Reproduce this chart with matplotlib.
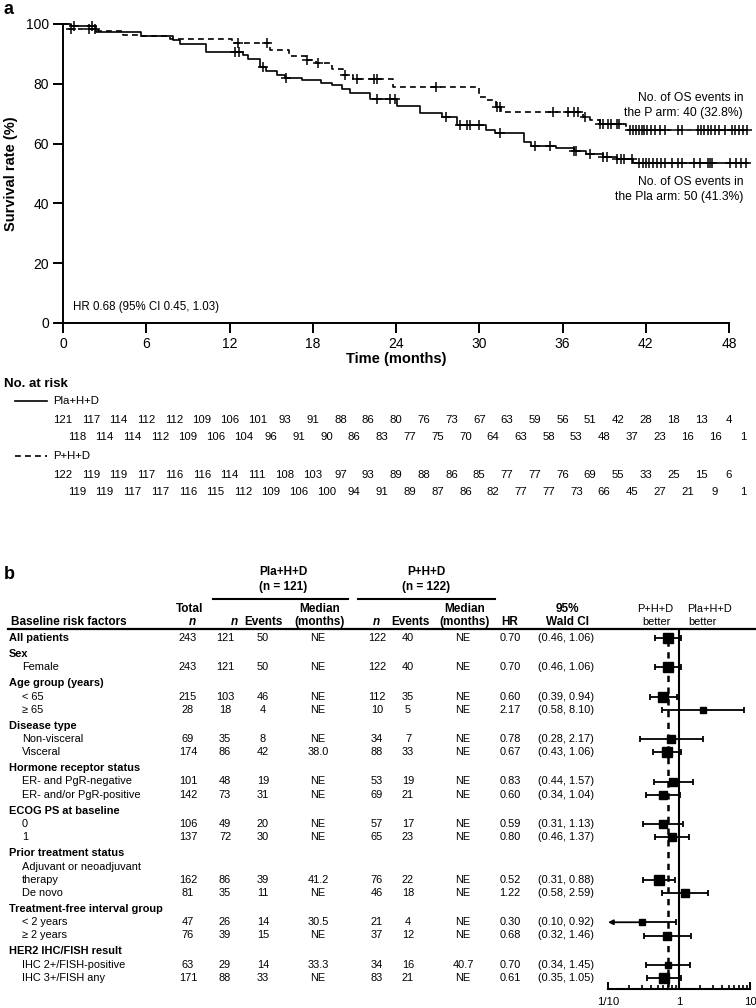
import numpy as np
import matplotlib
matplotlib.use('Agg')
import matplotlib.pyplot as plt
from matplotlib import transforms
from matplotlib.ticker import NullFormatter

plt.rcParams['font.family'] = ['Liberation Sans', 'DejaVu Sans']

W, H = 756, 1008

# ---------------- panel a: Kaplan-Meier (OS) ----------------
# step times (months) and survival (%) after each step
pla_t = [0, 0.6, 2.4, 5.6, 7.9, 8.4, 10.3, 13.0, 13.3, 14.2, 14.6, 15.4, 16.0, 17.2,
         18.6, 19.4, 20.1, 20.7, 22.1, 24.1, 25.7, 27.3, 28.4, 30.5, 31.1, 33.2, 33.7,
         35.5, 36.8, 37.7, 38.9, 39.9, 41.1]
pla_s = [100, 99.2, 97.3, 95.9, 94.8, 93.3, 90.8, 89.7, 88.2, 85.5, 84.3, 83.1, 81.9, 81.3,
         80.3, 79.6, 78.4, 76.8, 74.9, 72.6, 70.1, 68.8, 66.2, 64.5, 63.4, 60.6, 59.3,
         58.4, 57.5, 56.5, 55.6, 54.8, 53.4]
pla_cens = [0.8, 2.1, 12.4, 12.7, 14.4, 16.1, 22.6, 23.6, 23.9, 27.6, 28.6, 29.1, 29.3,
            30.0, 31.5, 34.0, 35.1, 36.8, 37.0, 38.0, 38.9, 39.2, 39.9, 40.2, 40.4, 41.0,
            41.5, 41.8, 42.0, 42.2, 42.5, 42.8, 43.1, 43.4, 43.9, 44.3, 44.6, 45.5, 45.9,
            46.5, 46.6, 46.8, 48.1, 48.5, 48.9, 49.2]

p_t = [0, 0.4, 2.5, 4.3, 5.6, 7.7, 12.2, 14.9, 16.3, 17.5, 18.2, 19.4, 20.2, 20.9, 23.8,
       30.0, 30.5, 31.2, 31.6, 37.5, 38.0, 38.7, 40.6]
p_s = [100, 98.4, 97.5, 96.4, 95.9, 95.1, 93.6, 91.3, 89.2, 88.0, 86.8, 84.8, 83.0, 81.7,
       78.8, 75.7, 74.6, 72.3, 70.7, 68.8, 67.9, 66.6, 64.5]
p_cens = [0.6, 1.9, 2.3, 12.6, 14.7, 17.6, 18.4, 20.3, 21.2, 22.4, 22.6, 26.9, 31.3, 31.5,
          35.3, 36.4, 36.8, 37.1, 37.6, 38.7, 38.9, 39.3, 39.5, 39.9, 40.1, 40.9, 41.1,
          41.3, 41.5, 41.7, 41.9, 42.1, 42.4, 42.7, 43.0, 43.4, 44.3, 44.6, 45.8, 46.0,
          46.2, 46.5, 46.7, 47.0, 47.3, 47.7, 48.2, 48.4, 48.7, 49.0, 49.3]
T_END = 49.4

# numbers at risk: even months (0..48) and odd months (1..49)
risk_pla_even = [121, 117, 114, 112, 112, 109, 106, 101, 93, 91, 88, 86, 80, 76, 73, 67,
                 63, 59, 56, 51, 42, 28, 18, 13, 4]
risk_pla_odd = [118, 114, 114, 112, 109, 106, 104, 96, 91, 90, 86, 83, 77, 75, 70, 64,
                63, 58, 53, 48, 37, 23, 16, 16, 1]
risk_p_even = [122, 119, 119, 117, 116, 116, 114, 111, 108, 103, 97, 93, 89, 88, 86, 85,
               77, 77, 76, 69, 55, 33, 25, 15, 6]
risk_p_odd = [119, 119, 117, 117, 116, 115, 112, 109, 106, 100, 94, 91, 89, 87, 86, 82,
              77, 77, 73, 66, 45, 27, 21, 9, 1]

# ---------------- panel b: forest plot ----------------
row_labels = ["All patients", "Sex", "Female", "Age group (years)", "< 65", "≥ 65",
              "Disease type", "Non-visceral", "Visceral", "Hormone receptor status",
              "ER- and PgR-negative", "ER- and/or PgR-positive", "ECOG PS at baseline",
              "0", "1", "Prior treatment status", "Adjuvant or neoadjuvant", "therapy",
              "De novo", "Treatment-free interval group", "< 2 years", "≥ 2 years",
              "HER2 IHC/FISH result", "IHC 2+/FISH-positive", "IHC 3+/FISH any"]
row_bold = [True, True, False, True, False, False, True, False, False, True, False, False,
            True, False, False, True, False, False, False, True, False, False, True, False, False]
row_has_data = [True, False, True, False, True, True, False, True, True, False, True, True,
                False, True, True, False, False, True, True, False, True, True, False, True, True]

total_n = [243, 243, 215, 28, 69, 174, 101, 142, 106, 137, 162, 81, 47, 76, 63, 171]
pla_n = [121, 121, 103, 18, 35, 86, 48, 73, 49, 72, 86, 35, 26, 39, 29, 88]
pla_ev = [50, 50, 46, 4, 8, 42, 19, 31, 20, 30, 39, 11, 14, 15, 14, 33]
pla_med = ["NE", "NE", "NE", "NE", "NE", "38.0", "NE", "NE", "NE", "NE", "41.2", "NE",
           "30.5", "NE", "33.3", "NE"]
p_n = [122, 122, 112, 10, 34, 88, 53, 69, 57, 65, 76, 46, 21, 37, 34, 83]
p_ev = [40, 40, 35, 5, 7, 33, 19, 21, 17, 23, 22, 18, 4, 12, 16, 21]
p_med = ["NE"] * 14 + ["40.7", "NE"]
hr = [0.70, 0.70, 0.60, 2.17, 0.78, 0.67, 0.83, 0.60, 0.59, 0.80, 0.52, 1.22, 0.30, 0.68,
      0.70, 0.61]
hr_lo = [0.46, 0.46, 0.39, 0.58, 0.28, 0.43, 0.44, 0.34, 0.31, 0.46, 0.31, 0.58, 0.10, 0.32,
         0.34, 0.35]
hr_hi = [1.06, 1.06, 0.94, 8.10, 2.17, 1.06, 1.57, 1.04, 1.13, 1.37, 0.88, 2.59, 0.92, 1.46,
         1.45, 1.05]
overall_hr = 0.70


def px_axes(fig, x0, y0, x1, y1):
    return fig.add_axes([x0 / W, 1 - y1 / H, (x1 - x0) / W, (y1 - y0) / H])


fig = plt.figure(figsize=(W / 100, H / 100), dpi=100)
base = fig.add_axes([0, 0, 1, 1])
base.set_xlim(0, W)
base.set_ylim(H, 0)
base.axis('off')

DASH = (0, (3.5, 2.5))

# ---- KM axes
km = px_axes(fig, 63, 24, 729, 323)
km.patch.set_visible(False)
km.set_xlim(0, 48)
km.set_ylim(0, 100)
for sp in ['top', 'right']:
    km.spines[sp].set_visible(False)
for sp in ['left', 'bottom']:
    km.spines[sp].set_linewidth(1.4)
km.set_xticks(np.arange(0, 49, 6))
km.set_yticks(np.arange(0, 101, 20))
km.tick_params(direction='out', length=7, width=1.4, labelsize=10, pad=3)
km.set_xlabel('Time (months)', fontsize=10.5, fontweight='bold', labelpad=1)
km.set_ylabel('Survival rate (%)', fontsize=10.5, fontweight='bold', labelpad=6)


def km_curve(ax, t, s, cens, ls):
    tt = list(t) + [T_END]
    ss = list(s) + [s[-1]]
    ax.step(tt, ss, where='post', color='black', lw=1.2, linestyle=ls, clip_on=False)
    idx = np.searchsorted(t, cens, side='right') - 1
    ax.plot(cens, np.array(s)[idx], linestyle='none', marker='+', ms=7, mew=1.1,
            color='black', clip_on=False)


km_curve(km, pla_t, pla_s, pla_cens, '-')
km_curve(km, p_t, p_s, p_cens, DASH)

km.text(0.015, 0.035, 'HR 0.68 (95% CI 0.45, 1.03)', transform=km.transAxes,
        fontsize=8.3, ha='left', va='bottom')
base.text(743, 92, 'No. of OS events in\nthe P arm: 40 (32.8%)', ha='right', va='top',
          fontsize=8.7, linespacing=1.3)
base.text(743, 176, 'No. of OS events in\nthe Pla arm: 50 (41.3%)', ha='right', va='top',
          fontsize=8.7, linespacing=1.3)

base.text(4, 1, 'a', fontsize=13, fontweight='bold', ha='left', va='top')

# ---- number at risk
risk_tr = transforms.blended_transform_factory(km.transData, base.transData)
base.text(4, 384, 'No. at risk', fontsize=9.5, fontweight='bold', va='center')
base.plot([15, 47], [401, 401], color='black', lw=1.2)
base.text(53, 401, 'Pla+H+D', fontsize=8.2, va='center')
base.plot([15, 47], [456, 456], color='black', lw=1.2, linestyle=DASH)
base.text(53, 456, 'P+H+D', fontsize=8.2, va='center')
for vals, start, y in [(risk_pla_even, 0, 420), (risk_pla_odd, 1, 437),
                       (risk_p_even, 0, 475), (risk_p_odd, 1, 492)]:
    for i, v in enumerate(vals):
        base.text(start + 2 * i, y, str(v), transform=risk_tr, ha='center', va='center',
                  fontsize=8.2)

# ---- panel b table
base.text(4, 566, 'b', fontsize=13, fontweight='bold', ha='left', va='top')

fb = 7.9
fh = 8.5
hdr = dict(fontsize=fh, fontweight='bold', ha='center', va='center')
base.text(283, 572, 'Pla+H+D', **hdr)
base.text(283, 587, '(n = 121)', **hdr)
base.text(426, 572, 'P+H+D', **hdr)
base.text(426, 587, '(n = 122)', **hdr)
base.plot([213, 348], [599, 599], color='black', lw=1.5)
base.plot([358, 495], [599, 599], color='black', lw=1.5)

y1, y2 = 609, 622
base.text(11, y2, 'Baseline risk factors', fontsize=fh, fontweight='bold', va='center')
base.text(190, y1, 'Total', **hdr)
ital = dict(hdr, fontstyle='italic')
base.text(192, y2, 'n', **ital)
base.text(234, y2, 'n', **ital)
base.text(263, y2, 'Events', **hdr)
base.text(320, y1, 'Median', **hdr)
base.text(320, y2, '(months)', **hdr)
base.text(376, y2, 'n', **ital)
base.text(410, y2, 'Events', **hdr)
base.text(465, y1, 'Median', **hdr)
base.text(465, y2, '(months)', **hdr)
base.text(510, y2, 'HR', **hdr)
base.text(567, y1, '95%', **hdr)
base.text(567, y2, 'Wald CI', **hdr)
base.text(673, y1, 'P+H+D', fontsize=fb, ha='right', va='center')
base.text(671, y2, 'better', fontsize=fb, ha='right', va='center')
base.text(687, y1, 'Pla+H+D', fontsize=fb, ha='left', va='center')
base.text(688, y2, 'better', fontsize=fb, ha='left', va='center')
base.plot([8, W], [629, 629], color='black', lw=1.6)

# row positions
row_y = []
y = 638.0
for i, b in enumerate(row_bold):
    if i > 0:
        y += 16.0 if b else 13.25
    row_y.append(y)

data_y = [yy for yy, d in zip(row_y, row_has_data) if d]

for lab, b, yy in zip(row_labels, row_bold, row_y):
    base.text(9 if b else 22, yy, lab, fontsize=fb, va='center',
              fontweight='bold' if b else 'normal')

cols = [(188, total_n), (225, pla_n), (263, pla_ev), (318, pla_med), (377, p_n),
        (408, p_ev), (463, p_med)]
for i, yy in enumerate(data_y):
    for cx, arr in cols:
        base.text(cx, yy, str(arr[i]), fontsize=fb, ha='center', va='center')
    base.text(510, yy, f'{hr[i]:.2f}', fontsize=fb, ha='center', va='center')
    base.text(566, yy, f'({hr_lo[i]:.2f}, {hr_hi[i]:.2f})', fontsize=fb, ha='center',
              va='center')

# ---- forest axes
fa = px_axes(fig, 608, 629, 750, 989)
fa.set_xscale('log')
fa.set_xlim(0.1, 10)
fa.set_ylim(989, 629)
fa.patch.set_visible(False)
for sp in ['top', 'right', 'left']:
    fa.spines[sp].set_visible(False)
fa.spines['bottom'].set_linewidth(1.5)
fa.set_yticks([])
fa.set_xticks([0.1, 1, 10])
fa.set_xticklabels(['1/10', '1', '10'])
fa.set_xticks([k * 0.1 for k in range(2, 10)] + list(range(2, 10)), minor=True)
fa.xaxis.set_minor_formatter(NullFormatter())
fa.tick_params(axis='x', which='major', direction='in', length=5, width=1.4,
               labelsize=8.2, pad=6)
fa.tick_params(axis='x', which='minor', direction='in', length=3, width=1.2)

fa.axvline(1, color='black', lw=1.5)
fa.vlines(overall_hr, 640, 989, colors='black', lw=1.8, linestyles=(0, (2.5, 2.2)))

for i, yy in enumerate(data_y):
    ms = 2.2 + 5.4 * np.sqrt(total_n[i] / max(total_n))
    if hr_lo[i] <= 0.1:
        fa.hlines(yy, hr[i], hr_hi[i], color='black', lw=1.3)
        fa.annotate('', xy=(hr_lo[i], yy), xytext=(hr[i], yy),
                    arrowprops=dict(arrowstyle='-|>', color='black', lw=1.3,
                                    mutation_scale=7, shrinkA=0, shrinkB=0),
                    annotation_clip=False)
        fa.plot([hr_hi[i]], [yy], marker='|', ms=5, mew=1.3, color='black', clip_on=False)
    else:
        fa.hlines(yy, hr_lo[i], hr_hi[i], color='black', lw=1.3)
        fa.plot([hr_lo[i], hr_hi[i]], [yy, yy], linestyle='none', marker='|', ms=5,
                mew=1.3, color='black', clip_on=False)
    fa.plot([hr[i]], [yy], marker='s', ms=ms, color='black', clip_on=False, zorder=5)

fig.savefig('out.png', dpi=100)
